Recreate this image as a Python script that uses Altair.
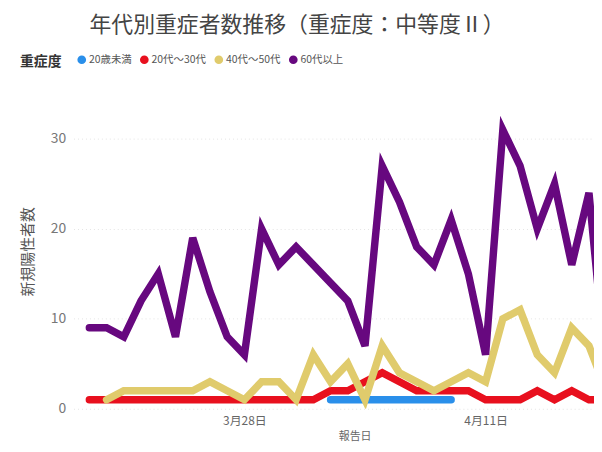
import altair as alt
import pandas as pd

dates = pd.date_range("2021-03-19", "2021-04-18", freq="D").strftime("%Y-%m-%d").tolist()

series_names = ["20歳未満", "20代～30代", "40代～50代", "60代以上"]
colors = ["#2A8FEA", "#E8101E", "#E0CB6C", "#67087F"]

under20 = [None]*14 + [1, 1, 1, 1, 1, 1, 1, 1] + [None]*9
age20_30 = [1, 1, 1, 1, 1, 1, 1, 1, 1, 1, 1, 1, 1, 1, 2, 2, 3, 4, 3, 2, 2, 2, 2, 1, 1, 1, 2, 1, 2, 1, 1]
age40_50 = [None, 1, 2, 2, 2, 2, 2, 3, 2, 1, 3, 3, 1, 6, 3, 5, 1, 7, 4, 3, 2, 3, 4, 3, 10, 11, 6, 4, 9, 7, 2]
age60 = [9, 9, 8, 12, 15, 8, 19, 13, 8, 6, 20, 16, 18, 16, 14, 12, 7, 27, 23, 18, 16, 21, 15, 6, 31, 27, 20, 25, 16, 24, 4]

rows = []
for name, vals in zip(series_names, [under20, age20_30, age40_50, age60]):
    for d, v in zip(dates, vals):
        if v is not None:
            rows.append({"報告日": d, "重症度": name, "新規陽性者数": v})
df = pd.DataFrame(rows)

font = "Noto Sans CJK JP"

chart = alt.Chart(df).mark_line(strokeWidth=7.5, strokeCap="round", strokeJoin="miter", clip=True).encode(
    x=alt.X("報告日:T",
            scale=alt.Scale(type="utc",
                            domain=[alt.DateTime(year=2021, month=3, date=18, hours=2, utc=True),
                                    alt.DateTime(year=2021, month=4, date=17, hours=7, utc=True)]),
            axis=alt.Axis(values=[alt.DateTime(year=2021, month=3, date=28, utc=True),
                                  alt.DateTime(year=2021, month=4, date=11, utc=True)],
                          labelExpr="(utcmonth(datum.value)+1) + '月' + utcdate(datum.value) + '日'",
                          grid=False, domain=False, ticks=False,
                          labelFont=font, labelFontSize=12, labelColor="#666", labelPadding=7,
                          title="報告日", titleFont=font, titleFontSize=11, titleFontWeight="normal",
                          titleColor="#666", titleX=283, titlePadding=4)),
    y=alt.Y("新規陽性者数:Q",
            scale=alt.Scale(domain=[0, 35], nice=False),
            axis=alt.Axis(values=[0, 10, 20, 30], grid=True, gridColor="#e4e4e4", gridDash=[1, 3],
                          domain=False, ticks=False,
                          labelFont=font, labelFontSize=14, labelColor="#777", labelPadding=8,
                          title="新規陽性者数", titleFont=font, titleFontSize=15, titleFontWeight="normal",
                          titleColor="#555", titlePadding=15)),
    color=alt.Color("重症度:N",
                    scale=alt.Scale(domain=series_names, range=colors),
                    legend=alt.Legend(orient="none", legendX=-54, legendY=-40, direction="horizontal",
                                      titleOrient="left", title="重症度", titleFont=font, titleFontSize=14,
                                      titleFontWeight="bold", titleColor="#333", titlePadding=15,
                                      labelFont=font, labelFontSize=10.5, labelColor="#555",
                                      symbolType="circle", symbolSize=18, symbolStrokeWidth=4.5,
                                      labelOffset=2, columnPadding=1)),
    order=alt.Order("重症度:N"),
).properties(
    width=524,
    height=317,
    padding={"left": 66, "top": 85, "right": 0, "bottom": 40},
    autosize=alt.AutoSizeParams(type="none"),
    title=alt.TitleParams("年代別重症者数推移（重症度：中等度Ⅱ）", font=font, fontSize=22,
                          fontWeight="normal", color="#444", anchor="start", frame="group",
                          dx=16, offset=17),
).configure_view(stroke=None)

chart.save("out.html", embed_options={"renderer": "svg", "actions": False})
